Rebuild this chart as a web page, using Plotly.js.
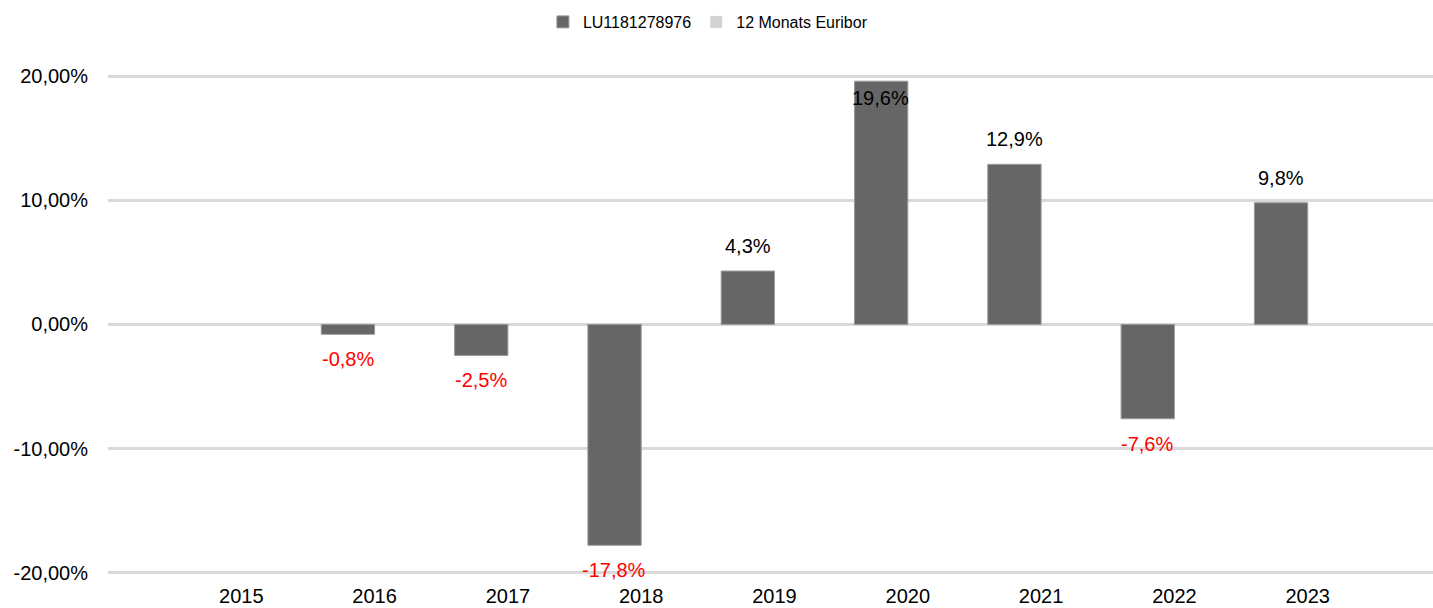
<!DOCTYPE html>
<html>
<head>
<meta charset="utf-8">
<script src="https://cdn.plot.ly/plotly-3.0.1.min.js"></script>
<style>html,body{margin:0;padding:0;background:#fff;}#chart{width:1433px;height:608px;}</style>
</head>
<body>
<div id="chart"></div>
<script>
const years = ["2015","2016","2017","2018","2019","2020","2021","2022","2023"];
const fundName = "LU1181278976";
const fundValues = [null, -0.8, -2.5, -17.8, 4.3, 19.6, 12.9, -7.6, 9.8];
const benchName = "12 Monats Euribor";
const benchValues = [null, null, null, null, null, null, null, null, null];
const yTickVals = [-20, -10, 0, 10, 20];
const yTickText = ["-20,00%", "-10,00%", "0,00%", "10,00%", "20,00%"];

const FONT = "Liberation Sans, Arial, sans-serif";
function fmt(v){ return v.toFixed(1).replace(".", ",") + "%"; }

const traces = [
  {type:"bar", name:fundName, x:years, y:fundValues,
   marker:{color:"#666666", line:{color:"#9a9a9a", width:1}}, hoverinfo:"x+y"},
  {type:"bar", name:benchName, x:years, y:benchValues,
   marker:{color:"#d3d3d3", line:{width:0}}, hoverinfo:"x+y"}
];

const annotations = [];
for (let i = 0; i < years.length; i++) {
  const v = fundValues[i];
  if (v === null) continue;
  let shift;
  if (v >= 0) shift = (v > 18) ? -17 : 25;
  else shift = -25;
  annotations.push({x:i, y:v, xref:"x", yref:"y", text:fmt(v), showarrow:false,
    xshift:-27, yshift:shift, xanchor:"center", yanchor:"middle",
    font:{family:FONT, size:20, color: (v < 0 ? "#ff0000" : "#000000")}});
}

const layout = {
  width:1433, height:608,
  margin:{l:108, r:0, t:39, b:23},
  paper_bgcolor:"#fff", plot_bgcolor:"#fff",
  barmode:"group", bargap:0.2, bargroupgap:0,
  font:{family:FONT, size:20, color:"#000"},
  showlegend:true,
  legend:{orientation:"h", xref:"container", yref:"container", x:0.494, y:1-22/608,
          xanchor:"center", yanchor:"middle", font:{family:FONT, size:16, color:"#000"},
          itemwidth:30, traceorder:"normal"},
  xaxis:{type:"category", range:[-1, 8.94], showgrid:false, zeroline:false, showline:false,
         ticks:"", ticklabelstandoff:-3, tickfont:{family:FONT, size:20, color:"#000"}, fixedrange:true},
  yaxis:{range:[-21, 23], tickvals:yTickVals, ticktext:yTickText, showgrid:true,
         gridcolor:"#d9d9d9", gridwidth:2.5, zeroline:true, zerolinecolor:"#d9d9d9", zerolinewidth:2.5,
         showline:false, ticks:"outside", ticklen:15, tickcolor:"rgba(0,0,0,0)",
         tickfont:{family:FONT, size:20, color:"#000"}, fixedrange:true},
  annotations:annotations
};

Plotly.newPlot("chart", traces, layout, {displayModeBar:false});
</script>
</body>
</html>
